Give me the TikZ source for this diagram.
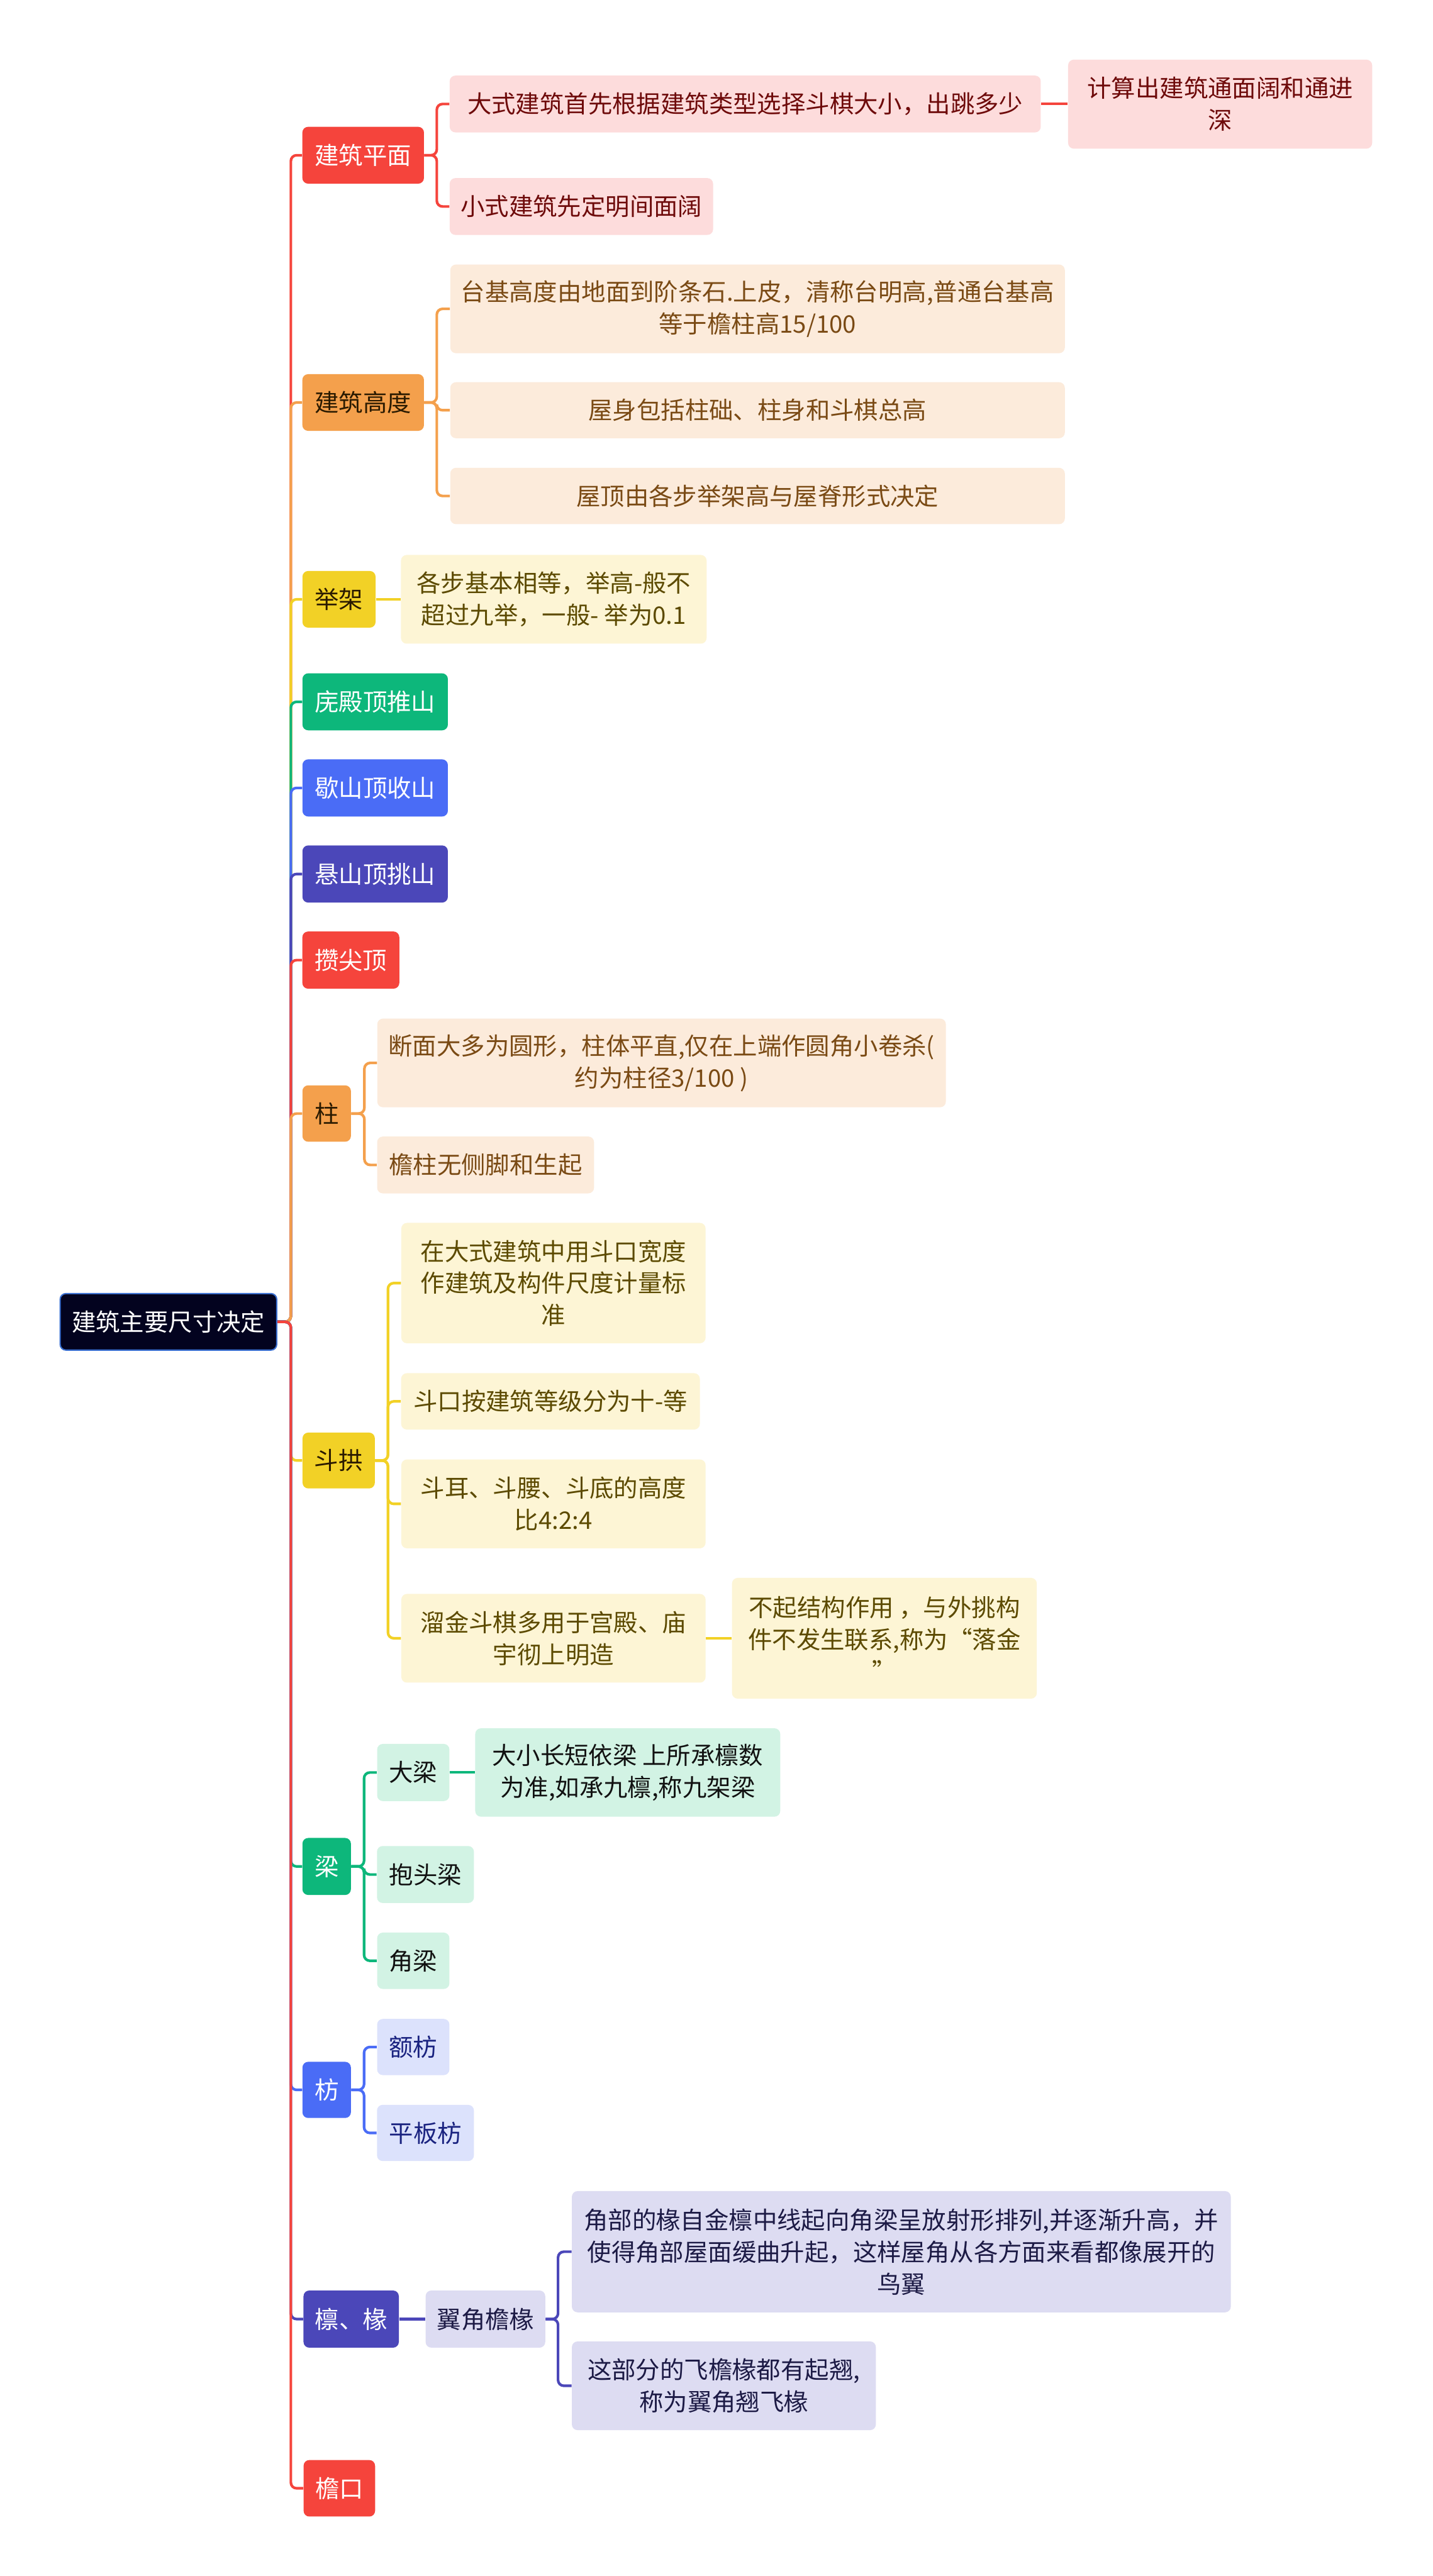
\documentclass[tikz,border=0pt]{standalone}
\usepackage{fontspec}
\setmainfont{Noto Sans CJK SC}
\usetikzlibrary{backgrounds}
\definecolor{cRed}{HTML}{F5443C}
\definecolor{cOrange}{HTML}{F4A04C}
\definecolor{cYellow}{HTML}{F2D126}
\definecolor{cGreen}{HTML}{0DB77B}
\definecolor{cBlue}{HTML}{4A6CF6}
\definecolor{cIndigo}{HTML}{4B47B9}
\definecolor{rootFill}{HTML}{03031F}
\definecolor{rootBorder}{HTML}{3A6FD0}
\definecolor{lRed}{HTML}{FDDCDC}
\definecolor{tRed}{HTML}{6E0A0A}
\definecolor{lOrange}{HTML}{FCEBDB}
\definecolor{tOrange}{HTML}{7A4A14}
\definecolor{lYellow}{HTML}{FDF5D5}
\definecolor{tYellow}{HTML}{5C4A00}
\definecolor{lGreen}{HTML}{D2F3E4}
\definecolor{tGreen}{HTML}{111111}
\definecolor{lBlue}{HTML}{DCE2FC}
\definecolor{tBlue}{HTML}{1A2380}
\definecolor{lIndigo}{HTML}{DDDCF2}
\definecolor{tIndigo}{HTML}{1C1A45}
\definecolor{tDark}{HTML}{2A1A00}
\newcommand\myfs{\fontsize{14.7}{19.5}\selectfont}
\tikzset{
  box/.style={rounded corners=3.5pt, inner sep=0pt, align=center, font=\myfs},
  sz/.style 2 args={minimum width=#1, minimum height=#2},
  rootbox/.style={box, fill=rootFill, draw=rootBorder, line width=0.8pt, text=white},
  brW/.style={box, fill=#1, text=white},
  brD/.style={box, fill=#1, text=tDark},
  leaf/.style 2 args={box, fill=#1, text=#2},
  cn/.style={draw=#1, line width=1.6pt, rounded corners=3.5pt}
}
\begin{document}
\begin{tikzpicture}[x=1pt,y=-1pt]
\useasboundingbox (0,0) rectangle (872,1568);
\begin{pgfonlayer}{background}
\fill[white] (0,0) rectangle (872,1568);
\end{pgfonlayer}

% root
\node[rootbox, sz={131.8}{34.4}] (root) at (102.5,804.6) {建筑主要尺寸决定};

% branches
\node[brW=cRed, sz={74}{34.6}] (b1) at (221,94.5) {建筑平面};
\node[brD=cOrange, sz={74}{34.5}] (b2) at (221,245) {建筑高度};
\node[brD=cYellow, sz={44.5}{34.5}] (b3) at (206.3,364.8) {举架};
\node[brW=cGreen, sz={88.5}{34.7}] (b4) at (228.3,427.2) {庑殿顶推山};
\node[brW=cBlue, sz={88.5}{34.8}] (b5) at (228.3,479.6) {歇山顶收山};
\node[brW=cIndigo, sz={88.5}{34.8}] (b6) at (228.3,532) {悬山顶挑山};
\node[brW=cRed, sz={59}{34.8}] (b7) at (213.5,584.4) {攒尖顶};
\node[brD=cOrange, sz={29.5}{34.3}] (b8) at (198.8,677.8) {柱};
\node[brD=cYellow, sz={44}{34}] (b9) at (206.1,889) {斗拱};
\node[brW=cGreen, sz={29.5}{34.7}] (b10) at (198.8,1136.1) {梁};
\node[brW=cBlue, sz={29.5}{34.2}] (b11) at (198.8,1272.1) {枋};
\node[brW=cIndigo, sz={58}{34.8}] (b12) at (213.7,1411.6) {檩、椽};
\node[brW=cRed, sz={43.5}{34.4}] (b13) at (206.5,1514.6) {檐口};

% 建筑平面
\node[leaf={lRed}{tRed}, sz={359.7}{34.6}] (a1) at (453.5,63.3) {大式建筑首先根据建筑类型选择斗棋大小，出跳多少};
\node[leaf={lRed}{tRed}, sz={185}{54.2}] (a11) at (742.5,63.4) {计算出建筑通面阔和通进\\深};
\node[leaf={lRed}{tRed}, sz={160.3}{34.6}] (a2) at (353.8,125.7) {小式建筑先定明间面阔};

% 建筑高度
\node[leaf={lOrange}{tOrange}, sz={374}{54}] (h1) at (461,188) {台基高度由地面到阶条石.上皮，清称台明高,普通台基高\\等于檐柱高15/100};
\node[leaf={lOrange}{tOrange}, sz={374}{34.1}] (h2) at (461,249.7) {屋身包括柱础、柱身和斗棋总高};
\node[leaf={lOrange}{tOrange}, sz={374}{34.3}] (h3) at (461,301.9) {屋顶由各步举架高与屋脊形式决定};

% 举架
\node[leaf={lYellow}{tYellow}, sz={186}{54}] (j1) at (337,364.8) {各步基本相等，举高-般不\\超过九举，一般- 举为0.1};

% 柱
\node[leaf={lOrange}{tOrange}, sz={346}{54}] (z1) at (402.6,647) {断面大多为圆形，柱体平直,仅在上端作圆角小卷杀(\\约为柱径3/100 )};
\node[leaf={lOrange}{tOrange}, sz={132}{34.6}] (z2) at (295.5,709.1) {檐柱无侧脚和生起};

% 斗拱
\node[leaf={lYellow}{tYellow}, sz={185.2}{73.3}] (d1) at (336.8,781) {在大式建筑中用斗口宽度\\作建筑及构件尺度计量标\\准};
\node[leaf={lYellow}{tYellow}, sz={181.8}{34.3}] (d2) at (335,853) {斗口按建筑等级分为十-等};
\node[leaf={lYellow}{tYellow}, sz={185.2}{54.1}] (d3) at (336.8,915.4) {斗耳、斗腰、斗底的高度\\比4:2:4};
\node[leaf={lYellow}{tYellow}, sz={185.2}{54}] (d4) at (336.8,997.2) {溜金斗棋多用于宫殿、庙\\宇彻上明造};
\node[leaf={lYellow}{tYellow}, sz={185.5}{73.5}] (d41) at (538.2,997.2) {不起结构作用 ，与外挑构\\件不发生联系,称为“落金\\”};

% 梁
\node[leaf={lGreen}{tGreen}, sz={44}{34.8}] (l1) at (251.5,1078.9) {大梁};
\node[leaf={lGreen}{tGreen}, sz={185.6}{53.8}] (l11) at (382,1078.9) {大小长短依梁 上所承檩数\\为准,如承九檩,称九架梁};
\node[leaf={lGreen}{tGreen}, sz={59}{34.7}] (l2) at (258.9,1141) {抱头梁};
\node[leaf={lGreen}{tGreen}, sz={44}{34.3}] (l3) at (251.5,1193.5) {角梁};

% 枋
\node[leaf={lBlue}{tBlue}, sz={44}{34.2}] (f1) at (251.5,1246) {额枋};
\node[leaf={lBlue}{tBlue}, sz={59}{34.2}] (f2) at (258.9,1298.3) {平板枋};

% 檩、椽
\node[leaf={lIndigo}{tIndigo}, sz={72.8}{34.8}] (y1) at (295.4,1411.6) {翼角檐椽};
\node[leaf={lIndigo}{tIndigo}, sz={401}{73.8}] (y11) at (548.5,1370.6) {角部的椽自金檩中线起向角梁呈放射形排列,并逐渐升高，并\\使得角部屋面缓曲升起，这样屋角从各方面来看都像展开的\\鸟翼};
\node[leaf={lIndigo}{tIndigo}, sz={185}{54}] (y12) at (440.5,1452.2) {这部分的飞檐椽都有起翘,\\称为翼角翘飞椽};

\begin{pgfonlayer}{background}
% root to branches (top to bottom order)
\draw[cn=cRed] (root.east) -- ++(8.2,0) |- (b1.west);
\draw[cn=cOrange] (root.east) -- ++(8.2,0) |- (b2.west);
\draw[cn=cYellow] (root.east) -- ++(8.2,0) |- (b3.west);
\draw[cn=cGreen] (root.east) -- ++(8.2,0) |- (b4.west);
\draw[cn=cBlue] (root.east) -- ++(8.2,0) |- (b5.west);
\draw[cn=cIndigo] (root.east) -- ++(8.2,0) |- (b6.west);
\draw[cn=cRed] (root.east) -- ++(8.2,0) |- (b7.west);
\draw[cn=cOrange] (root.east) -- ++(8.2,0) |- (b8.west);
\draw[cn=cYellow] (root.east) -- ++(8.2,0) |- (b9.west);
\draw[cn=cGreen] (root.east) -- ++(8.2,0) |- (b10.west);
\draw[cn=cBlue] (root.east) -- ++(8.2,0) |- (b11.west);
\draw[cn=cIndigo] (root.east) -- ++(8.2,0) |- (b12.west);
\draw[cn=cRed] (root.east) -- ++(8.2,0) |- (b13.west);

% 建筑平面
\draw[cn=cRed] (b1.east) -- ++(7.6,0) |- (a1.west);
\draw[cn=cRed] (b1.east) -- ++(7.6,0) |- (a2.west);
\draw[cn=cRed] (a1.east) -- (a1.east -| a11.west);
% 建筑高度
\draw[cn=cOrange] (b2.east) -- ++(7.6,0) |- (h1.west);
\draw[cn=cOrange] (b2.east) -- ++(7.6,0) |- (h2.west);
\draw[cn=cOrange] (b2.east) -- ++(7.6,0) |- (h3.west);
% 举架
\draw[cn=cYellow] (b3.east) -- (b3.east -| j1.west);
% 柱
\draw[cn=cOrange] (b8.east) -- ++(8,0) |- (z1.west);
\draw[cn=cOrange] (b8.east) -- ++(8,0) |- (z2.west);
% 斗拱
\draw[cn=cYellow] (b9.east) -- ++(7.8,0) |- (d1.west);
\draw[cn=cYellow] (b9.east) -- ++(7.8,0) |- (d2.west);
\draw[cn=cYellow] (b9.east) -- ++(7.8,0) |- (d3.west);
\draw[cn=cYellow] (b9.east) -- ++(7.8,0) |- (d4.west);
\draw[cn=cYellow] (d4.east) -- (d4.east -| d41.west);
% 梁
\draw[cn=cGreen] (b10.east) -- ++(7.8,0) |- (l1.west);
\draw[cn=cGreen] (b10.east) -- ++(7.8,0) |- (l2.west);
\draw[cn=cGreen] (b10.east) -- ++(7.8,0) |- (l3.west);
\draw[cn=cGreen] (l1.east) -- (l1.east -| l11.west);
% 枋
\draw[cn=cBlue] (b11.east) -- ++(7.8,0) |- (f1.west);
\draw[cn=cBlue] (b11.east) -- ++(7.8,0) |- (f2.west);
% 檩、椽
\draw[cn=cIndigo] (b12.east) -- (b12.east -| y1.west);
\draw[cn=cIndigo] (y1.east) -- ++(7.6,0) |- (y11.west);
\draw[cn=cIndigo] (y1.east) -- ++(7.6,0) |- (y12.west);
\end{pgfonlayer}
\end{tikzpicture}
\end{document}
